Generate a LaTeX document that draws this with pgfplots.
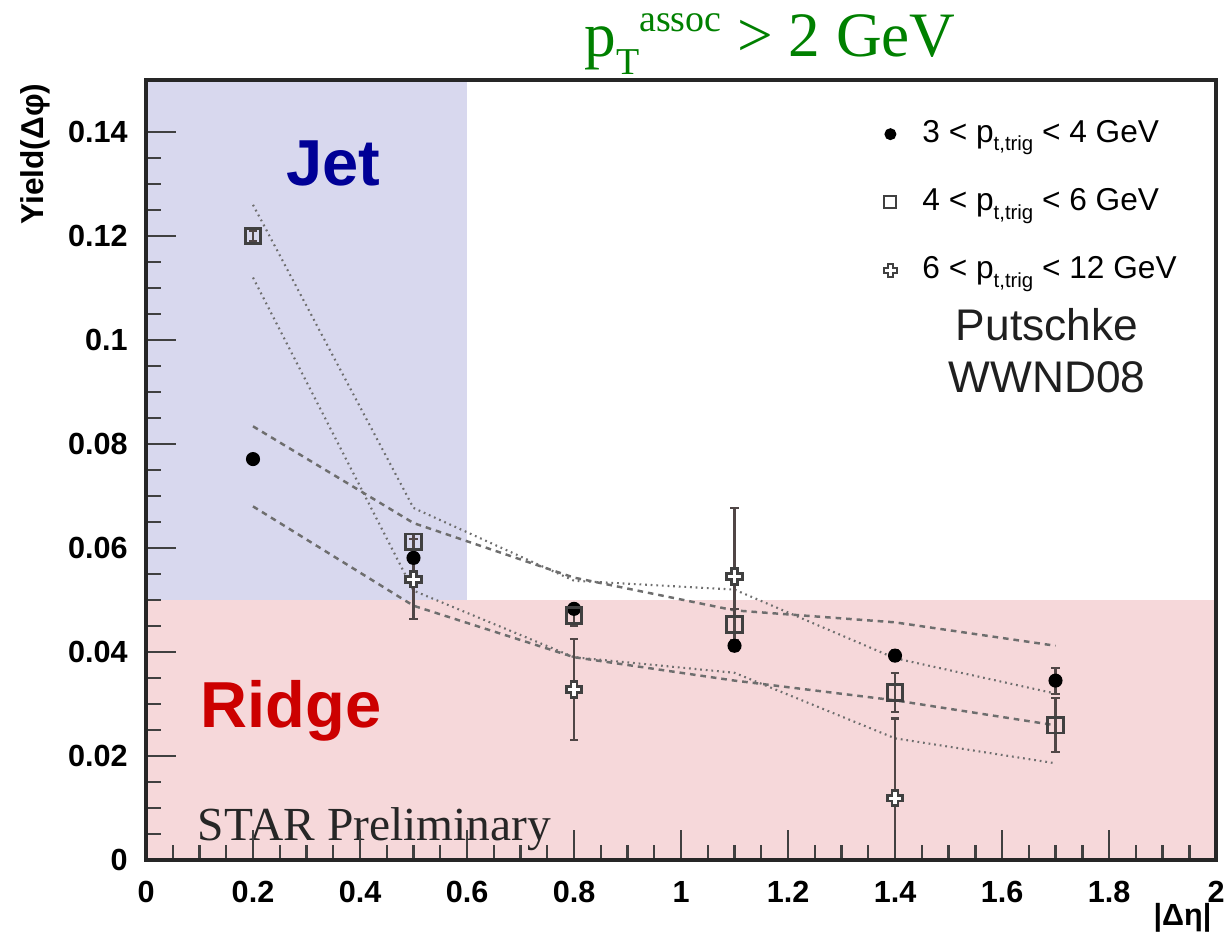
\documentclass[border=0pt]{standalone}
\usepackage{fontspec}
\setmainfont{Liberation Sans}
\newfontfamily\serif{Liberation Serif}
\usepackage{pgfplots}
\pgfplotsset{compat=1.18}
\definecolor{jetbg}{RGB}{216,216,238}
\definecolor{ridgebg}{RGB}{246,216,218}
\definecolor{jetcol}{RGB}{0,0,150}
\definecolor{ridgecol}{RGB}{204,0,0}
\definecolor{titlegreen}{RGB}{0,128,0}
\definecolor{linegray}{RGB}{110,110,110}
\definecolor{ebar}{RGB}{80,70,70}
\pgfdeclareplotmark{ocross}{%
  \pgfpathmoveto{\pgfqpoint{-0.38\pgfplotmarksize}{\pgfplotmarksize}}%
  \pgfpathlineto{\pgfqpoint{0.38\pgfplotmarksize}{\pgfplotmarksize}}%
  \pgfpathlineto{\pgfqpoint{0.38\pgfplotmarksize}{0.38\pgfplotmarksize}}%
  \pgfpathlineto{\pgfqpoint{\pgfplotmarksize}{0.38\pgfplotmarksize}}%
  \pgfpathlineto{\pgfqpoint{\pgfplotmarksize}{-0.38\pgfplotmarksize}}%
  \pgfpathlineto{\pgfqpoint{0.38\pgfplotmarksize}{-0.38\pgfplotmarksize}}%
  \pgfpathlineto{\pgfqpoint{0.38\pgfplotmarksize}{-\pgfplotmarksize}}%
  \pgfpathlineto{\pgfqpoint{-0.38\pgfplotmarksize}{-\pgfplotmarksize}}%
  \pgfpathlineto{\pgfqpoint{-0.38\pgfplotmarksize}{-0.38\pgfplotmarksize}}%
  \pgfpathlineto{\pgfqpoint{-\pgfplotmarksize}{-0.38\pgfplotmarksize}}%
  \pgfpathlineto{\pgfqpoint{-\pgfplotmarksize}{0.38\pgfplotmarksize}}%
  \pgfpathlineto{\pgfqpoint{-0.38\pgfplotmarksize}{0.38\pgfplotmarksize}}%
  \pgfpathclose
  \pgfusepathqfillstroke
}
\newcommand{\ptt}{p\raisebox{-0.5ex}{\fontsize{5.8}{6}\selectfont t,trig}}
\begin{document}
\begin{tikzpicture}
\path[use as bounding box] (-1.46cm,-0.79cm) rectangle (10.82cm,8.60cm);
\begin{axis}[
  at={(0,0)}, anchor=south west,
  scale only axis, width=10.70cm, height=7.80cm,
  xmin=0, xmax=2, ymin=0, ymax=0.15,
  axis on top,
  axis line style={line width=0.9pt, color=black!85},
  tick align=inside,
  xtick pos=bottom, ytick pos=left,
  xtick={0,0.2,0.4,0.6,0.8,1,1.2,1.4,1.6,1.8,2},
  xticklabels={0,0.2,0.4,0.6,0.8,1,1.2,1.4,1.6,1.8,2},
  ytick={0,0.02,0.04,0.06,0.08,0.1,0.12,0.14},
  yticklabels={0,0.02,0.04,0.06,0.08,0.1,0.12,0.14},
  minor x tick num=3, minor y tick num=3,
  major tick length=3.0mm, minor tick length=1.5mm,
  tick style={line width=0.7pt, color=black!75},
  ticklabel style={font=\fontsize{8.7}{10}\selectfont\bfseries},
  /pgf/number format/assume math mode=true,
  yticklabel style={xshift=-0.6mm},
  xticklabel style={yshift=-0.9mm},
  clip=true,
  legend style={at={(rel axis cs:0.667,0.958)}, anchor=north west, draw=none, fill=none,
    font=\fontsize{9}{10}\selectfont, row sep=7.6pt, legend cell align=left,
    inner sep=0pt},
  legend image code/.code={\path[draw=none] (0cm,0cm) -- (0.55cm,0cm); \draw[#1] plot coordinates {(0.3cm,0cm)};},
]
% background regions
\addplot[fill=ridgebg, draw=none, forget plot] coordinates {(0,0) (2,0) (2,0.05) (0,0.05)} -- cycle;
\addplot[fill=jetbg, draw=none, forget plot] coordinates {(0,0.05) (0.6,0.05) (0.6,0.15) (0,0.15)} -- cycle;
% model curves
\addplot[linegray, line width=0.7pt, dash pattern=on 1.6pt off 1.4pt, forget plot] coordinates {(0.2,0.0834) (0.5,0.0648) (0.8,0.0543) (1.1,0.0480) (1.4,0.0457) (1.7,0.0412)};
\addplot[linegray, line width=0.7pt, dash pattern=on 1.6pt off 1.4pt, forget plot] coordinates {(0.2,0.0680) (0.5,0.0489) (0.8,0.0390) (1.1,0.0345) (1.4,0.0307) (1.7,0.0259)};
\addplot[linegray, line width=0.6pt, dash pattern=on 0.5pt off 1.1pt, forget plot] coordinates {(0.2,0.1260) (0.5,0.0677) (0.8,0.0537) (1.1,0.0520) (1.4,0.0388) (1.7,0.0320)};
\addplot[linegray, line width=0.6pt, dash pattern=on 0.5pt off 1.1pt, forget plot] coordinates {(0.2,0.1120) (0.5,0.0518) (0.8,0.0390) (1.1,0.0360) (1.4,0.0234) (1.7,0.0186)};
% data
\addplot[only marks, mark=*, mark size=1.8pt, black, forget plot,
  error bars/.cd, y dir=both, y explicit,
  error bar style={line width=0.6pt, ebar},
  error mark options={rotate=90, mark size=1.2pt, line width=0.6pt, ebar}]
  coordinates {(0.2,0.0771) +- (0,0.0008) (0.5,0.0581) +- (0,0.0010) (0.8,0.0483) +- (0,0.0010) (1.1,0.0412) +- (0,0.0010) (1.4,0.0393) +- (0,0.0010) (1.7,0.0345) +- (0,0.0025)};
\addplot[only marks, mark=square, mark size=2.2pt, mark options={line width=0.8pt, draw=black!75}, forget plot,
  error bars/.cd, y dir=both, y explicit,
  error bar style={line width=0.6pt, ebar},
  error mark options={rotate=90, mark size=1.2pt, line width=0.6pt, ebar}]
  coordinates {(0.2,0.1200) +- (0,0.0010) (0.5,0.0612) +- (0,0.0015) (0.8,0.0470) +- (0,0.0020) (1.1,0.0453) +- (0,0.0030) (1.4,0.0322) +- (0,0.0038) (1.7,0.0259) +- (0,0.0052)};
\addplot[only marks, mark=ocross, mark size=2.2pt, mark options={line width=0.8pt, draw=black!75, fill=white}, forget plot,
  error bars/.cd, y dir=both, y explicit,
  error bar style={line width=0.6pt, ebar},
  error mark options={rotate=90, mark size=1.2pt, line width=0.6pt, ebar}]
  coordinates {(0.5,0.0540) +- (0,0.0077) (0.8,0.0328) +- (0,0.0097) (1.1,0.0545) +- (0,0.0132) (1.4,0.0119) +- (0,0.0153)};
% legend
\addlegendimage{only marks, mark=*, mark size=1.5pt, black}
\addlegendentry{3 < \ptt{} < 4 GeV}
\addlegendimage{only marks, mark=square, mark size=1.7pt, mark options={line width=0.6pt, draw=black!75}}
\addlegendentry{4 < \ptt{} < 6 GeV}
\addlegendimage{only marks, mark=ocross, mark size=1.8pt, mark options={line width=0.6pt, draw=black!75, fill=white}}
\addlegendentry{6 < \ptt{} < 12 GeV}
% texts
\node[anchor=base, text=jetcol, font=\fontsize{18.5}{20}\selectfont\bfseries] at (rel axis cs:0.175,0.865) {Jet};
\node[anchor=base, text=ridgecol, font=\fontsize{18.5}{20}\selectfont\bfseries] at (rel axis cs:0.1355,0.1705) {Ridge};
\node[anchor=base west, inner sep=0pt, text=black!85, font=\serif\fontsize{13.5}{15}\selectfont] at (rel axis cs:0.0477,0.0256) {STAR Preliminary};
\node[anchor=base, align=center, inner sep=0pt, text=black!88, font=\fontsize{12.6}{15}\selectfont] at (rel axis cs:0.842,0.599) {Putschke\\WWND08};
\end{axis}
% title and axis labels (outside the axis box)
\node[anchor=base, inner sep=0pt, text=titlegreen, font=\serif\fontsize{18}{20}\selectfont] at (6.24cm,8.03cm)
  {p\raisebox{-4.9pt}{\fontsize{10.8}{12}\selectfont T}\raisebox{7.3pt}{\fontsize{10.8}{12}\selectfont assoc} > 2 GeV};
\node[rotate=90, anchor=east, inner sep=0pt, font=\fontsize{9}{10}\selectfont\bfseries] at (-1.11cm,7.77cm) {Yield(Δφ)};
\node[anchor=base east, inner sep=0pt, font=\fontsize{8.7}{10}\selectfont\bfseries] at (10.66cm,-0.65cm) {|Δη|};
\end{tikzpicture}
\end{document}
